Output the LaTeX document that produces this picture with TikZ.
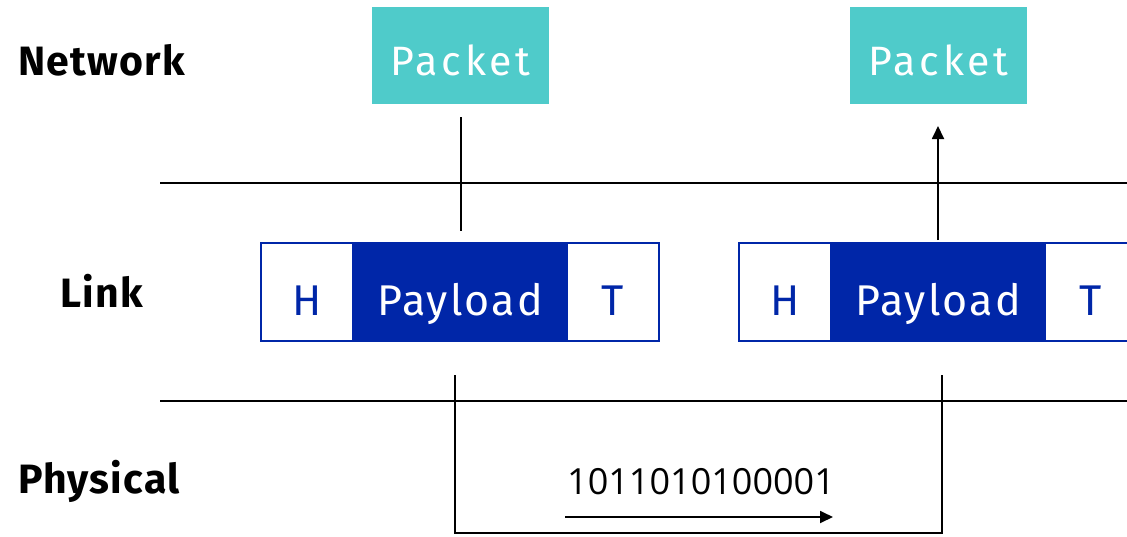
\documentclass[tikz,border=0pt]{standalone}
\usepackage{fontspec}
\setmainfont{Fira Sans}
\newfontfamily\bitsfont{Open Sans}
\usetikzlibrary{arrows.meta}
\definecolor{teal}{HTML}{4FCBCA}
\definecolor{navy}{HTML}{0026A8}
\tikzset{
  layer/.style={font=\fontsize{41}{44}\selectfont\bfseries\addfontfeature{LetterSpace=3},
    anchor=base west, inner sep=0pt},
  packet/.style={fill=teal, text=white, minimum width=177pt, minimum height=97pt,
    inner sep=0pt, text height=39pt, text depth=0pt,
    font=\fontsize{41}{44}\selectfont\addfontfeature{LetterSpace=9}},
  cell/.style={draw=navy, line width=1.6pt, minimum height=98pt, inner sep=0pt, outer sep=0pt,
    text height=46pt, text depth=0pt, text=navy,
    font=\fontsize{43}{46}\selectfont\addfontfeature{LetterSpace=5}},
  hcell/.style={cell, minimum width=92pt},
  pcell/.style={cell, fill=navy, text=white, minimum width=214pt},
  rule/.style={line width=1.6pt, black},
  conn/.style={line width=1.8pt, black},
  tip/.style={-{Triangle[length=13pt,width=12pt]}}
}
\begin{document}
\begin{tikzpicture}[x=1pt, y=-1pt]
\useasboundingbox (0,0) rectangle (1127,536);
\begin{scope}
\clip (0,0) rectangle (1127,536);

% layer labels
\node[layer] (net) at (18,75) {Network};
\node[layer] (lnk) at (60,307) {Link};
\node[layer] (phy) at (18,493) {Physical};

% layer boundaries
\draw[rule] (160,183) -- (1127,183);
\draw[rule] (160,401) -- (1127,401);

% network packets
\node[packet] (pk1) at (460.5,55.5) {Packet};
\node[packet] (pk2) at (938.5,55.5) {Packet};

% link frames: header, payload, trailer
\node[hcell] (h1) at (307,292) {H};
\node[pcell, anchor=west] (p1) at (h1.east) {Payload};
\node[hcell, anchor=west] (t1) at (p1.east) {T};

\node[hcell] (h2) at (785,292) {H};
\node[pcell, anchor=west] (p2) at (h2.east) {Payload};
\node[hcell, anchor=west] (t2) at (p2.east) {T};

% encapsulation: packet down into frame
\coordinate (d1a) at (461,117);
\coordinate (d1b) at (461,231);
\draw[conn] (d1a) -- (d1b);

% decapsulation: frame up into packet
\coordinate (u2a) at (938,240);
\coordinate (u2b) at (938,126);
\draw[conn, tip] (u2a) -- (u2b);

% physical transmission path
\coordinate (s1) at (455,375);
\coordinate (s2) at (455,533);
\coordinate (s3) at (942,533);
\coordinate (s4) at (942,375);
\draw[conn] (s1) -- (s2) -- (s3) -- (s4);

% bit stream
\node[font=\bitsfont\fontsize{36}{40}\selectfont, inner sep=0pt, anchor=base west] (bits) at (567,494) {1011010100001};
\coordinate (b1) at (565,517);
\coordinate (b2) at (833,517);
\draw[conn, tip] (b1) -- (b2);
\end{scope}
\end{tikzpicture}
\end{document}
